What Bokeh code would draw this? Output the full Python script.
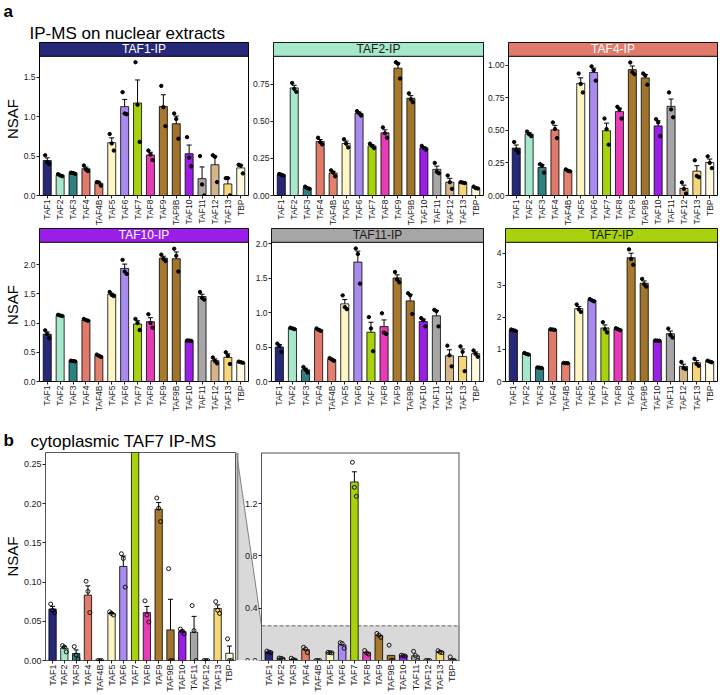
import numpy as np
from bokeh.plotting import figure
from bokeh.models import ColumnDataSource, Range1d, FixedTicker, PrintfTickFormatter, Whisker, TeeHead
from bokeh.transform import dodge
from bokeh.layouts import column, row
from bokeh.core.properties import value
from bokeh.embed import file_html
from bokeh.resources import INLINE

FONT = "Liberation Sans"

categories = ["TAF1", "TAF2", "TAF3", "TAF4", "TAF4B", "TAF5", "TAF6", "TAF7", "TAF8",
              "TAF9", "TAF9B", "TAF10", "TAF11", "TAF12", "TAF13", "TBP"]
bar_colors = ["#26287a", "#a6e8cc", "#2f8080", "#e07a6b", "#e3816f", "#fdf6c4", "#a98bf0",
              "#a8d20e", "#e83cb6", "#a8782c", "#a0742c", "#9a1ee6", "#a6a6a6", "#d6b48a",
              "#f5d77a", "#fffae0"]

# replicate NSAF values (3 per protein), order = categories
taf1_ip = [[0.51, 0.42, 0.40], [0.27, 0.255, 0.245], [0.29, 0.285, 0.275], [0.38, 0.33, 0.31],
           [0.17, 0.165, 0.125], [0.78, 0.66, 0.57], [1.31, 1.04, 1.03], [1.69, 1.15, 0.68],
           [0.57, 0.52, 0.45], [1.39, 1.12, 0.88], [1.04, 0.97, 0.72], [0.74, 0.48, 0.37],
           [0.50, 0.14, 0.0], [0.51, 0.49, 0.17], [0.22, 0.22, 0.0], [0.39, 0.38, 0.28]]
taf2_ip = [[0.145, 0.14, 0.135], [0.76, 0.72, 0.70], [0.06, 0.05, 0.045], [0.39, 0.36, 0.345],
           [0.17, 0.155, 0.13], [0.38, 0.35, 0.325], [0.57, 0.555, 0.54], [0.35, 0.335, 0.32],
           [0.46, 0.42, 0.39], [0.90, 0.89, 0.79], [0.69, 0.65, 0.63], [0.335, 0.32, 0.31],
           [0.22, 0.16, 0.15], [0.135, 0.09, 0.045], [0.09, 0.087, 0.084], [0.06, 0.05, 0.047]]
taf4_ip = [[0.41, 0.35, 0.33], [0.49, 0.47, 0.455], [0.24, 0.23, 0.175], [0.56, 0.51, 0.44],
           [0.20, 0.19, 0.185], [0.935, 0.855, 0.79], [0.99, 0.96, 0.88], [0.59, 0.51, 0.39],
           [0.68, 0.66, 0.59], [1.02, 0.945, 0.93], [0.935, 0.92, 0.85], [0.585, 0.56, 0.455],
           [0.79, 0.66, 0.60], [0.10, 0.05, 0.015], [0.27, 0.15, 0.14], [0.30, 0.25, 0.21]]
taf10_ip = [[0.875, 0.81, 0.74], [1.14, 1.13, 1.12], [0.355, 0.35, 0.345], [1.07, 1.05, 1.04],
            [0.46, 0.44, 0.42], [1.53, 1.48, 1.46], [2.08, 1.88, 1.84], [1.07, 1.00, 0.88],
            [1.15, 1.00, 0.92], [2.17, 2.10, 2.06], [2.27, 2.15, 1.88], [0.70, 0.70, 0.695],
            [1.53, 1.43, 1.40], [0.41, 0.35, 0.31], [0.50, 0.44, 0.30], [0.34, 0.33, 0.32]]
taf11_ip = [[0.55, 0.52, 0.43], [0.78, 0.77, 0.76], [0.21, 0.17, 0.13], [0.77, 0.75, 0.735],
            [0.34, 0.32, 0.30], [1.25, 1.08, 1.05], [1.93, 1.85, 1.42], [0.935, 0.77, 0.44],
            [0.99, 0.71, 0.69], [1.59, 1.48, 1.44], [1.28, 1.25, 0.98], [0.92, 0.89, 0.80],
            [1.04, 1.02, 0.80], [0.52, 0.38, 0.22], [0.51, 0.43, 0.15], [0.45, 0.40, 0.36]]
taf7_ip = [[1.62, 1.60, 1.58], [0.89, 0.86, 0.84], [0.44, 0.43, 0.42], [1.63, 1.62, 1.61],
           [0.58, 0.575, 0.57], [2.40, 2.25, 2.17], [2.57, 2.53, 2.50], [1.85, 1.63, 1.53],
           [1.66, 1.63, 1.60], [4.12, 3.82, 3.64], [3.20, 3.03, 2.96], [1.28, 1.275, 1.27],
           [1.65, 1.45, 1.37], [0.61, 0.42, 0.39], [0.71, 0.55, 0.49], [0.65, 0.62, 0.60]]
cyto_taf7_ip = [[0.072, 0.064, 0.061], [0.019, 0.017, 0.011], [0.0177, 0.007, 0.002],
                [0.101, 0.088, 0.061], [0.0, 0.0, 0.0], [0.062, 0.060, 0.058],
                [0.136, 0.130, 0.0935], [1.515, 1.324, 1.255], [0.076, 0.058, 0.049],
                [0.207, 0.194, 0.177], [0.117, 0.0, 0.0], [0.040, 0.037, 0.034],
                [0.070, 0.038, 0.0], [0.0, 0.0, 0.0], [0.075, 0.064, 0.060], [0.0276, 0.0, 0.0]]

# facet titles / axis settings
strip_titles = ["TAF1-IP", "TAF2-IP", "TAF4-IP", "TAF10-IP", "TAF11-IP", "TAF7-IP"]
strip_colors = ["#26287a", "#a6e8cc", "#e07a6b", "#9a1ee6", "#a6a6a6", "#a8d20e"]
strip_text_colors = ["white", "#1a1a1a", "white", "white", "#1a1a1a", "#1a1a1a"]
y_max = [1.765, 0.94, 1.067, 2.38, 2.02, 4.34]
y_ticks = [[0, 0.5, 1.0, 1.5], [0, 0.25, 0.5, 0.75], [0, 0.25, 0.5, 0.75, 1.0],
           [0, 0.5, 1.0, 1.5, 2.0], [0, 0.5, 1.0, 1.5, 2.0], [0, 1, 2, 3, 4]]
y_fmt = ["%.1f", "%.2f", "%.2f", "%.1f", "%.1f", "%d"]
cyto_zoom_max = 0.265
cyto_full_max = 1.59
cyto_zoom_ticks = [0, 0.05, 0.10, 0.15, 0.20, 0.25]
cyto_full_ticks = [0, 0.4, 0.8, 1.2]

XS = np.arange(1, len(categories) + 1)
X0, X1 = 0.4, len(categories) + 0.6
JIT = [-0.16, 0.0, 0.16]

# layout sizes (page has no margin)
BLS = [36, 22, 21]
BR = 1
FW = 212
STRIP_H = 14
FH, FB = 141, 31
HA, HB = 42, 38
BFH, BFB = 208, 34
BBL, BFW, GAP = 38, 198, 25
TOTAL_W = 718


def stats(reps):
    a = np.array(reps, dtype=float)
    return a, a.mean(axis=1), a.std(axis=1, ddof=1) / np.sqrt(a.shape[1])


def style(p, ticks, fmt, lab_size="8.5px"):
    p.grid.visible = False
    p.background_fill_color = "white"
    p.border_fill_color = "white"
    p.xaxis.ticker = FixedTicker(ticks=[int(v) for v in XS])
    p.xaxis.major_label_overrides = {int(v): c for v, c in zip(XS, categories)}
    p.xaxis.major_label_orientation = np.pi / 2
    p.yaxis.ticker = FixedTicker(ticks=ticks)
    p.yaxis.formatter = PrintfTickFormatter(format=fmt)
    for ax in (p.xaxis, p.yaxis):
        ax.axis_line_color = None
        ax.major_tick_out = 3
        ax.major_tick_in = 0
        ax.major_tick_line_color = "#222222"
        ax.minor_tick_line_color = None
        ax.major_label_text_font = FONT
        ax.major_label_text_font_size = lab_size
        ax.major_label_text_color = "#1a1a1a"
        ax.major_label_standoff = 1


def ylabel(p):
    p.yaxis.axis_label = "NSAF"
    p.yaxis.axis_label_text_font = FONT
    p.yaxis.axis_label_text_font_size = "15px"
    p.yaxis.axis_label_text_font_style = "normal"
    p.yaxis.axis_label_text_color = "black"
    p.yaxis.axis_label_standoff = 0


def add_marks(p, reps, hollow=False):
    a, m, se = stats(reps)
    src = ColumnDataSource(dict(x=XS, top=m, upper=m + se, lower=m - se, color=bar_colors,
                                r0=a[:, 0], r1=a[:, 1], r2=a[:, 2]))
    p.vbar(x="x", top="top", width=0.62, source=src, fill_color="color",
           line_color="black", line_width=0.8)
    p.add_layout(Whisker(source=src, base="x", upper="upper", lower="lower",
                         line_color="black", line_width=1,
                         upper_head=TeeHead(size=5, line_color="black", line_width=1),
                         lower_head=TeeHead(size=5, line_color="black", line_width=1)))
    for k in range(3):
        if hollow:
            p.scatter(x=dodge("x", JIT[k]), y=f"r{k}", source=src, size=4,
                      fill_color=None, line_color="black", line_width=0.9)
        else:
            p.scatter(x=dodge("x", JIT[k]), y=f"r{k}", source=src, size=3.4,
                      fill_color="black", line_color="black")


def facet(i, reps, bl, with_label):
    top = y_max[i] * (FH + STRIP_H) / FH
    p = figure(width=bl + FW + BR, height=STRIP_H + FH + FB, x_range=Range1d(X0, X1),
               y_range=Range1d(0, top), output_backend="svg", toolbar_location=None,
               title=None, min_border_left=bl, min_border_right=BR, min_border_top=0,
               min_border_bottom=FB)
    style(p, y_ticks[i], y_fmt[i])
    p.yaxis.bounds = (0, y_max[i])
    p.outline_line_color = "black"
    p.outline_line_width = 1
    if with_label:
        ylabel(p)
    add_marks(p, reps)
    # facet strip
    p.quad(left=[X0], right=[X1], bottom=[y_max[i]], top=[top], fill_color=strip_colors[i],
           line_color="black", line_width=1)
    p.text(x=[(X0 + X1) / 2], y=[(y_max[i] + top) / 2], text=[strip_titles[i]],
           text_font=value(FONT), text_font_size="12px", text_color=strip_text_colors[i],
           text_align="center", text_baseline="middle")
    return p


def header(h, items):
    p = figure(width=TOTAL_W, height=h, x_range=Range1d(0, TOTAL_W), y_range=Range1d(0, h),
               output_backend="svg", toolbar_location=None, title=None,
               x_axis_location=None, y_axis_location=None, min_border=0)
    p.grid.visible = False
    p.outline_line_color = None
    for x, y, t, size, bold in items:
        p.text(x=[x], y=[y], text=[t], text_font=value(FONT), text_font_size=size,
               text_font_style="bold" if bold else "normal", text_color="black",
               text_align="left", text_baseline="alphabetic")
    return p


head_a = header(HA, [(3, 31, "a", "17px", True), (29, 9, "IP-MS on nuclear extracts", "17px", False)])
row1 = row(facet(0, taf1_ip, BLS[0], True), facet(1, taf2_ip, BLS[1], False),
           facet(2, taf4_ip, BLS[2], False))
row2 = row(facet(3, taf10_ip, BLS[0], True), facet(4, taf11_ip, BLS[1], False),
           facet(5, taf7_ip, BLS[2], False))
head_b = header(HB, [(3, 12, "b", "17px", True), (30, 11, "cytoplasmic TAF7 IP-MS", "17px", False)])

# b left: zoomed view
bl_fig = figure(width=BBL + BFW, height=BFH + BFB, x_range=Range1d(X0, X1),
                y_range=Range1d(0, cyto_zoom_max), output_backend="svg", toolbar_location=None,
                title=None, min_border_left=BBL, min_border_right=0, min_border_top=0,
                min_border_bottom=BFB)
style(bl_fig, cyto_zoom_ticks, "%.2f", "9px")
bl_fig.outline_line_color = "#555555"
ylabel(bl_fig)
add_marks(bl_fig, cyto_taf7_ip, hollow=True)

# b right: full range, with zoom connector drawn in the gap
units_per_px = (X1 - X0) / BFW
xg = X0 - GAP * units_per_px
br_fig = figure(width=GAP + BFW + 2, height=BFH + BFB, x_range=Range1d(xg, X1),
                y_range=Range1d(0, cyto_full_max), output_backend="svg", toolbar_location=None,
                title=None, min_border_left=0, min_border_right=2, min_border_top=0,
                min_border_bottom=BFB)
style(br_fig, cyto_full_ticks, "%.1f", "9px")
br_fig.outline_line_color = None
br_fig.yaxis.fixed_location = X0
br_fig.yaxis.axis_line_color = "#555555"
br_fig.xaxis.axis_line_color = "#555555"
br_fig.xaxis.bounds = (X0, X1)
br_fig.patch(x=[xg, X0, X1, X1, xg], y=[cyto_full_max, cyto_zoom_max, cyto_zoom_max, 0, 0],
             fill_color="#d9d9d9", line_color=None)
br_fig.line(x=[xg, X0], y=[cyto_full_max, cyto_zoom_max], line_color="#808080", line_width=1)
br_fig.line(x=[xg, xg], y=[0, cyto_full_max], line_color="#8c8c8c", line_width=4)
br_fig.line(x=[X0, X1], y=[cyto_zoom_max, cyto_zoom_max], line_color="#666666",
            line_width=1, line_dash="4 2")
br_fig.segment(x0=[X0, X1], y0=[cyto_full_max, 0], x1=[X1, X1], y1=[cyto_full_max, cyto_full_max],
               line_color="#555555", line_width=2)
add_marks(br_fig, cyto_taf7_ip, hollow=True)

layout = column(head_a, row1, row2, head_b, row(bl_fig, br_fig))

with open("out.html", "w") as f:
    f.write(file_html(layout, INLINE))
